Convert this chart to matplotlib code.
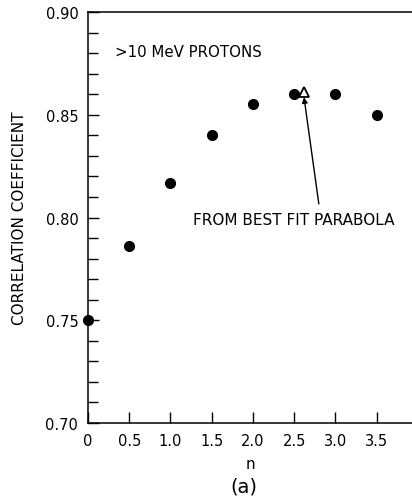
import numpy as np
import matplotlib
matplotlib.use("Agg")
import matplotlib.pyplot as plt
from matplotlib.ticker import MultipleLocator

n = [0.0, 0.5, 1.0, 1.5, 2.0, 2.5, 3.0, 3.5]
corr = [0.750, 0.786, 0.817, 0.840, 0.855, 0.860, 0.860, 0.850]
n_fit = 2.62
corr_fit = 0.861
xlabels = ['0', '0.5', '1.0', '1.5', '2.0', '2.5', '3.0', '3.5']
ylabels = ['0.70', '0.75', '0.80', '0.85', '0.90']

plt.rcParams['font.family'] = ['DejaVu Sans']

fig = plt.figure(figsize=(4.12, 5.02), dpi=100)
ax = fig.add_axes([88/412, 1 - 424/502, 1 - 88/412, (424 - 13)/502])

ax.plot(n, corr, 'o', color='black', markersize=7, clip_on=False, zorder=3)
ax.plot(n_fit, corr_fit, '^', markerfacecolor='white', markeredgecolor='black',
        markersize=6.5, markeredgewidth=1.3, zorder=4)

ax.set_xlim(0, 3.93)
ax.set_ylim(0.70, 0.90)
ax.spines['right'].set_visible(False)
for s in ['left', 'bottom', 'top']:
    ax.spines[s].set_linewidth(1.1)

ax.yaxis.set_minor_locator(MultipleLocator(0.01))
ax.set_xticks(n)
ax.set_xticklabels(xlabels)
ax.set_yticks([0.70, 0.75, 0.80, 0.85, 0.90])
ax.set_yticklabels(ylabels)
ax.tick_params(axis='x', which='major', direction='in', length=8, width=1,
               labelsize=10.5, pad=7)
ax.tick_params(axis='y', which='major', direction='in', length=8, width=1,
               labelsize=10.5, pad=7)
ax.tick_params(axis='y', which='minor', direction='in', length=7, width=1)
ax.tick_params(top=False, right=False)

ax.set_ylabel('CORRELATION COEFFICIENT', fontsize=11, labelpad=13)
ax.set_xlabel('n', fontsize=11, labelpad=6)
fig.text(244/412, 1 - 487/502, '(a)', fontsize=14, ha='center', va='center')

ax.text(0.33, 0.881, '>10 MeV PROTONS', fontsize=10.8, ha='left', va='center')
ax.text(2.5, 0.7988, 'FROM BEST FIT PARABOLA', fontsize=11, ha='center', va='center')
ax.annotate('', xy=(n_fit, 0.8585), xytext=(2.80, 0.8066),
            arrowprops=dict(arrowstyle='-|>', color='black', lw=1,
                            shrinkA=0, shrinkB=0, mutation_scale=8))

fig.savefig('out.png', dpi=100)
